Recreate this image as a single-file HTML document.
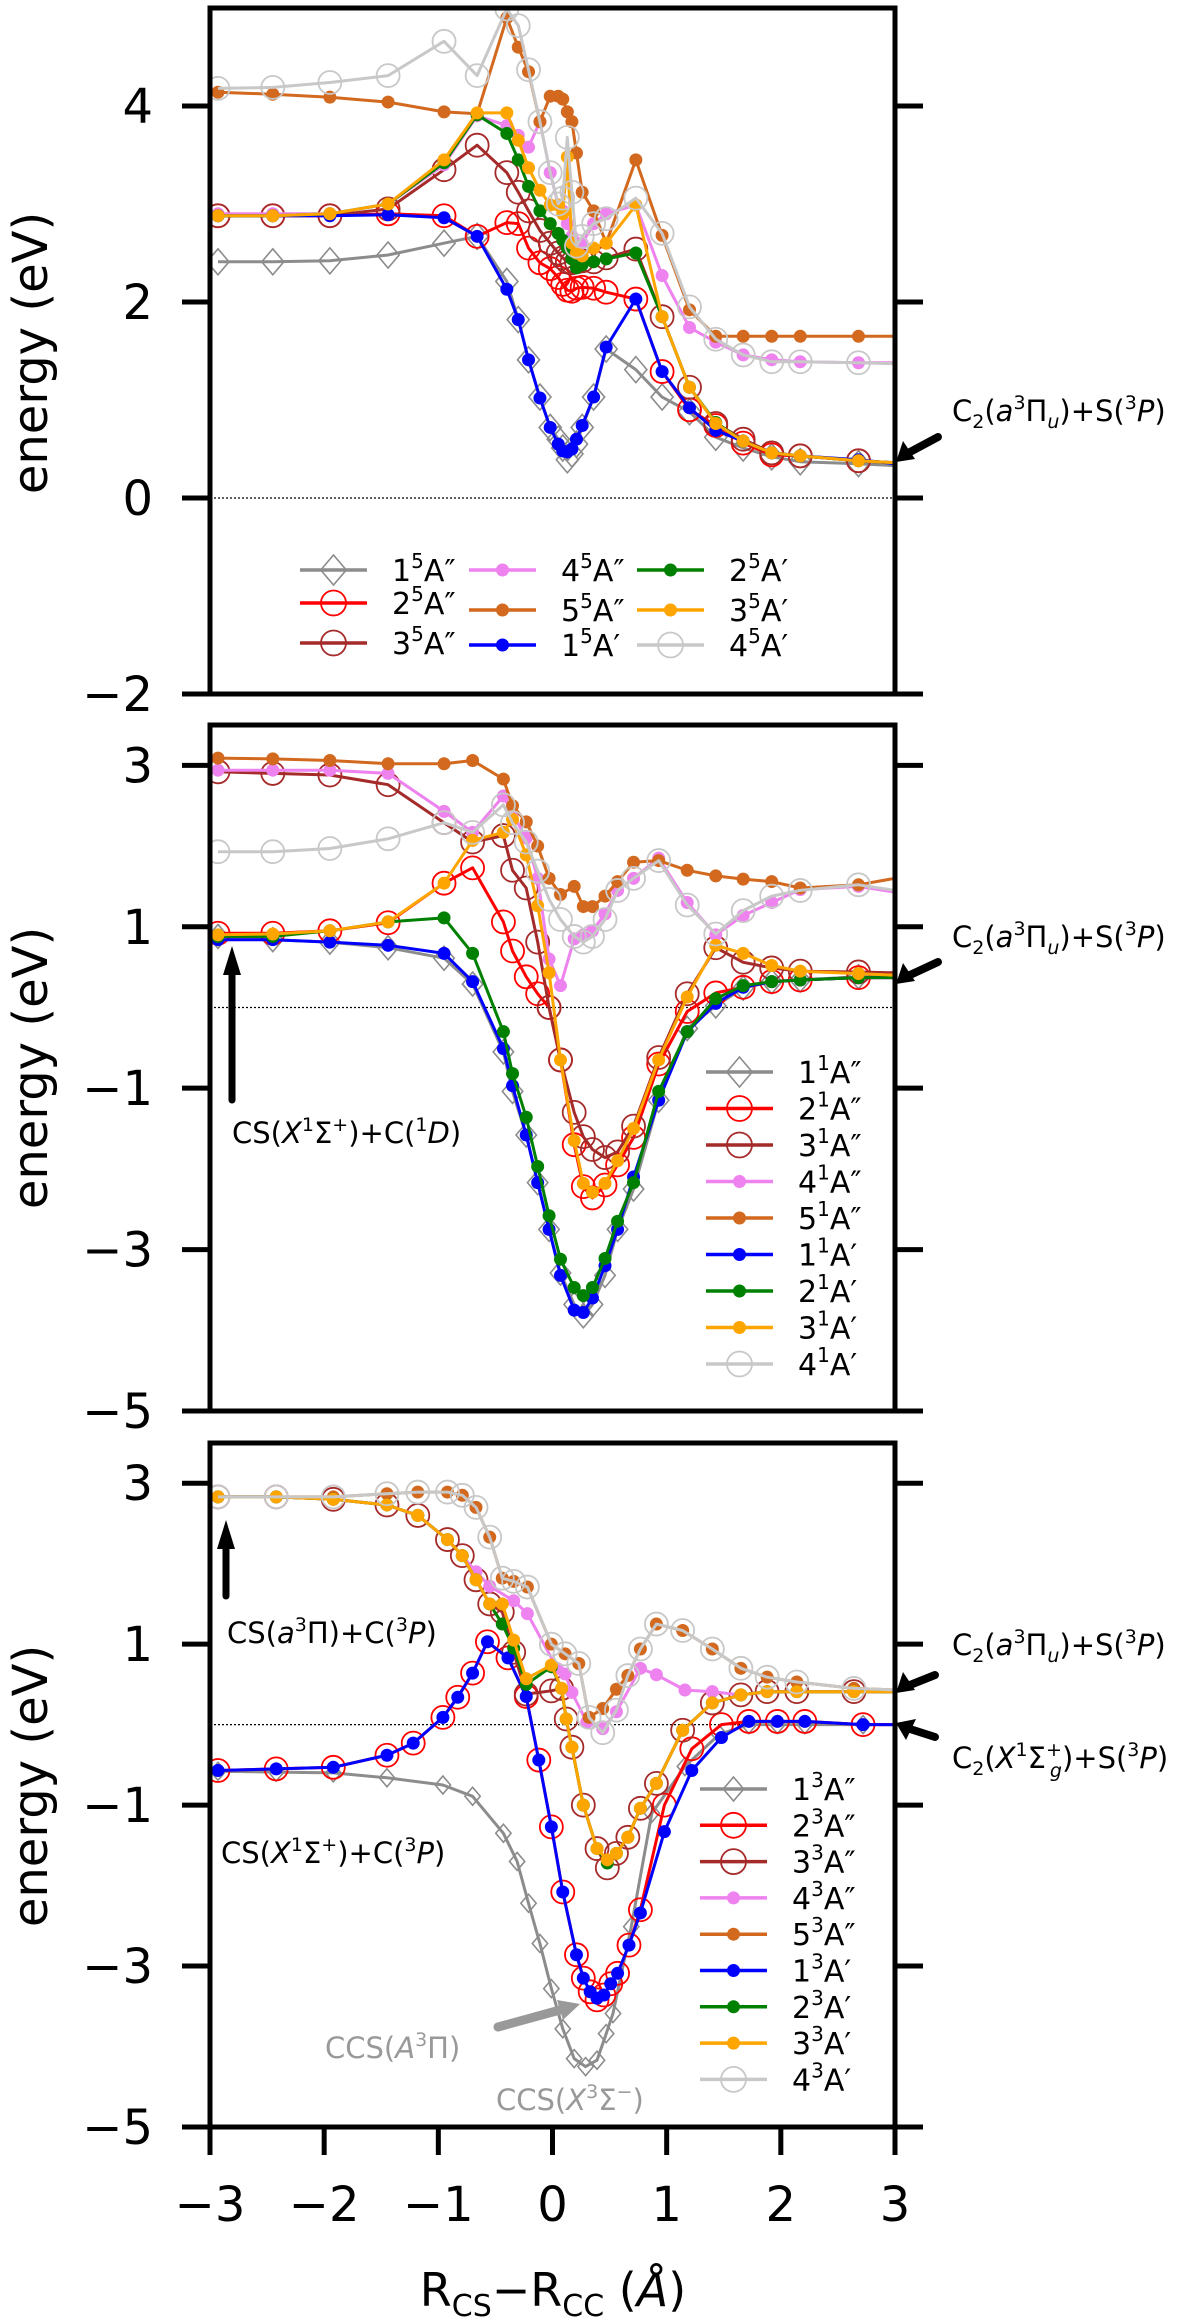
<!DOCTYPE html>
<html><head><meta charset="utf-8"><style>
html,body{margin:0;padding:0;background:#fff;}
svg{display:block;}
text{font-family:"DejaVu Sans","Liberation Sans",sans-serif;}
.ann{font-family:"DejaVu Sans","Liberation Sans",sans-serif;font-size:29px;}
</style></head><body>
<svg id="chart" width="1200" height="2318" viewBox="0 0 1200 2318" xmlns="http://www.w3.org/2000/svg">
<defs>
<clipPath id="c1"><rect x="210" y="8" width="685" height="686"/></clipPath>
<clipPath id="c2"><rect x="210" y="725" width="685" height="686"/></clipPath>
<clipPath id="c3"><rect x="210" y="1443" width="685" height="684"/></clipPath>
</defs>
<g id="layer"></g>
<!-- annotations -->
<g fill="#000">
<text class="ann" x="952" y="421">C<tspan font-size="19" dy="7">2</tspan><tspan dy="-7">(</tspan><tspan font-style="italic">a</tspan><tspan font-size="19" dy="-12">3</tspan><tspan dy="12">Π</tspan><tspan font-size="19" dy="7" font-style="italic">u</tspan><tspan dy="-7">)+S(</tspan><tspan font-size="19" dy="-12">3</tspan><tspan dy="12" font-style="italic">P</tspan>)</text>
<text class="ann" x="952" y="947">C<tspan font-size="19" dy="7">2</tspan><tspan dy="-7">(</tspan><tspan font-style="italic">a</tspan><tspan font-size="19" dy="-12">3</tspan><tspan dy="12">Π</tspan><tspan font-size="19" dy="7" font-style="italic">u</tspan><tspan dy="-7">)+S(</tspan><tspan font-size="19" dy="-12">3</tspan><tspan dy="12" font-style="italic">P</tspan>)</text>
<text class="ann" x="952" y="1655">C<tspan font-size="19" dy="7">2</tspan><tspan dy="-7">(</tspan><tspan font-style="italic">a</tspan><tspan font-size="19" dy="-12">3</tspan><tspan dy="12">Π</tspan><tspan font-size="19" dy="7" font-style="italic">u</tspan><tspan dy="-7">)+S(</tspan><tspan font-size="19" dy="-12">3</tspan><tspan dy="12" font-style="italic">P</tspan>)</text>
<text class="ann" x="952" y="1768">C<tspan font-size="19" dy="7">2</tspan><tspan dy="-7">(</tspan><tspan font-style="italic">X</tspan><tspan font-size="19" dy="-12">1</tspan><tspan dy="12">Σ</tspan><tspan font-size="19" dy="-12">+</tspan><tspan font-size="19" dx="-12" dy="21" font-style="italic">g</tspan><tspan dy="-9">)+S(</tspan><tspan font-size="19" dy="-12">3</tspan><tspan dy="12" font-style="italic">P</tspan>)</text>
<text class="ann" x="232" y="1143">CS(<tspan font-style="italic">X</tspan><tspan font-size="19" dy="-12">1</tspan><tspan dy="12">Σ</tspan><tspan font-size="19" dy="-12">+</tspan><tspan dy="12">)+C(</tspan><tspan font-size="19" dy="-12">1</tspan><tspan dy="12" font-style="italic">D</tspan>)</text>
<text class="ann" x="227" y="1643">CS(<tspan font-style="italic">a</tspan><tspan font-size="19" dy="-12">3</tspan><tspan dy="12">Π)+C(</tspan><tspan font-size="19" dy="-12">3</tspan><tspan dy="12" font-style="italic">P</tspan>)</text>
<text class="ann" x="221" y="1863">CS(<tspan font-style="italic">X</tspan><tspan font-size="19" dy="-12">1</tspan><tspan dy="12">Σ</tspan><tspan font-size="19" dy="-12">+</tspan><tspan dy="12">)+C(</tspan><tspan font-size="19" dy="-12">3</tspan><tspan dy="12" font-style="italic">P</tspan>)</text>
<text class="ann" x="325" y="2058" fill="#999">CCS(<tspan font-style="italic">A</tspan><tspan font-size="19" dy="-12">3</tspan><tspan dy="12">Π)</tspan></text>
<text class="ann" x="496" y="2110" fill="#999">CCS(<tspan font-style="italic">X</tspan><tspan font-size="19" dy="-12">3</tspan><tspan dy="12">Σ</tspan><tspan font-size="19" dy="-12">−</tspan><tspan dy="12">)</tspan></text>
</g>
<g stroke-linecap="round">
<g><line x1="938" y1="437" x2="910" y2="452" stroke="#000" stroke-width="8"/><polygon points="896,462 903,441 915,459" fill="#000"/></g>
<g><line x1="938" y1="962" x2="910" y2="975" stroke="#000" stroke-width="8"/><polygon points="896,984 903,963 915,981" fill="#000"/></g>
<g><line x1="935" y1="1675" x2="910" y2="1685" stroke="#000" stroke-width="8"/><polygon points="896,1693 903,1672 915,1690" fill="#000"/></g>
<g><line x1="935" y1="1737" x2="910" y2="1729" stroke="#000" stroke-width="8"/><polygon points="896,1723 916,1719 906,1740" fill="#000"/></g>
<g><line x1="232" y1="1100" x2="232" y2="970" stroke="#000" stroke-width="7"/><polygon points="232,946 223,975 241,975" fill="#000"/></g>
<g><line x1="226" y1="1596" x2="226" y2="1545" stroke="#000" stroke-width="7"/><polygon points="226,1520 217,1549 235,1549" fill="#000"/></g>
<g><line x1="498" y1="2027" x2="560" y2="2010" stroke="#999" stroke-width="9"/><polygon points="580,2004 557,2000 563,2020" fill="#999"/></g>
</g>
<text x="31" y="353" transform="rotate(-90 31 353)" text-anchor="middle" dominant-baseline="central" font-size="48">energy (eV)</text>
<text x="31" y="1068" transform="rotate(-90 31 1068)" text-anchor="middle" dominant-baseline="central" font-size="48">energy (eV)</text>
<text x="31" y="1786" transform="rotate(-90 31 1786)" text-anchor="middle" dominant-baseline="central" font-size="48">energy (eV)</text>
<text x="553" y="2306" text-anchor="middle" font-size="46">R<tspan font-size="30" dy="10">CS</tspan><tspan dy="-10">−R</tspan><tspan font-size="30" dy="10">CC</tspan><tspan dy="-10"> (</tspan><tspan font-style="italic">Å</tspan>)</text>
</svg>
<script>
// ---------- data ----------
const xRange = [-3, 3];
const p1Range = [-2, 5];
const p2Range = [-5, 3.5];
const p3Range = [-5, 3.5];
const p1Ticks = [4, 2, 0, -2];
const p2Ticks = [3, 1, -1, -3, -5];
const p3Ticks = [3, 1, -1, -3, -5];
const xTicks = [-3, -2, -1, 0, 1, 2, 3];

// panel 1 (quintets)
const p1x = [-2.93,-2.45,-1.95,-1.44,-0.95,-0.66,-0.40,-0.30,-0.21,-0.11,-0.02,0.05,0.09,0.13,0.17,0.21,0.26,0.36,0.47,0.73,0.96,1.2,1.43,1.67,1.92,2.17,2.68,3.0];
const p1_1App = [2.41,2.41,2.42,2.48,2.6,2.67,2.21,1.82,1.41,1.03,0.72,0.6,0.51,0.39,0.45,0.55,0.72,1.03,1.52,1.31,1.03,0.88,0.62,0.51,0.42,0.37,0.35,0.33];
const p1_2App = [2.88,2.88,2.88,2.9,2.88,2.67,2.81,2.8,2.55,2.4,2.34,2.25,2.18,2.12,2.11,2.14,2.15,2.14,2.1,2.03,1.29,0.9,0.74,0.56,0.44,0.43,0.38,0.36];
const p1_3App = [2.88,2.88,2.88,2.95,3.35,3.6,3.32,3.12,2.93,2.73,2.6,2.5,2.45,2.41,2.4,2.41,2.42,2.41,2.45,2.54,1.85,1.13,0.76,0.6,0.46,0.43,0.38,0.36];
const p1_4App = [2.9,2.9,2.9,3.0,3.4,3.9,3.8,3.7,3.58,3.84,3.32,2.99,2.93,2.8,2.67,2.6,2.6,2.8,2.9,2.99,2.27,1.74,1.59,1.46,1.41,1.39,1.38,1.38];
const p1_5App = [4.14,4.12,4.09,4.04,3.94,3.92,4.9,4.6,4.35,3.84,4.1,4.1,4.07,3.94,3.84,3.52,3.12,2.93,2.6,3.45,2.68,1.92,1.65,1.65,1.65,1.65,1.65,1.65];
const p1_1Ap = [2.88,2.88,2.88,2.89,2.86,2.67,2.13,1.82,1.41,1.02,0.72,0.55,0.48,0.47,0.5,0.6,0.74,1.03,1.54,2.03,1.29,0.92,0.69,0.58,0.46,0.43,0.39,0.35];
const p1_2Ap = [2.88,2.88,2.9,3.0,3.42,3.91,3.72,3.45,3.18,2.93,2.8,2.7,2.63,2.55,2.44,2.35,2.38,2.41,2.44,2.5,1.85,1.13,0.77,0.58,0.46,0.43,0.38,0.36];
const p1_3Ap = [2.88,2.88,2.9,3.0,3.45,3.93,3.93,3.65,3.37,3.14,2.99,2.99,2.9,3.48,2.6,2.5,2.47,2.55,2.6,2.99,1.85,1.13,0.76,0.58,0.46,0.43,0.38,0.36];
const p1_4Ap = [4.18,4.19,4.24,4.31,4.66,4.31,4.99,4.82,4.37,3.84,3.32,3.0,3.06,3.68,3.12,2.57,2.67,2.8,2.85,3.06,2.7,1.95,1.62,1.46,1.39,1.39,1.38,1.37];

// panel 2 (singlets)
const p2x = [-2.93,-2.45,-1.95,-1.44,-0.95,-0.70,-0.43,-0.35,-0.23,-0.13,-0.03,0.07,0.19,0.27,0.35,0.46,0.57,0.71,0.93,1.18,1.43,1.67,1.92,2.17,2.68,3.0];
const p2_1App = [0.88,0.84,0.81,0.74,0.61,0.29,-0.55,-1.04,-1.58,-2.17,-2.75,-3.29,-3.68,-3.82,-3.68,-3.32,-2.75,-2.25,-1.15,-0.26,0.02,0.24,0.32,0.34,0.38,0.38];
const p2_2App = [0.92,0.92,0.95,1.05,1.54,1.73,1.06,0.7,0.38,0.17,0.0,-0.65,-1.7,-2.22,-2.36,-2.2,-1.95,-1.61,-0.7,-0.05,0.18,0.25,0.32,0.34,0.37,0.37];
const p2_3App = [2.92,2.9,2.88,2.76,2.29,2.05,2.13,1.7,1.48,0.81,0.0,-0.65,-1.3,-1.6,-1.76,-1.86,-1.79,-1.47,-0.62,0.17,0.74,0.56,0.49,0.45,0.44,0.43];
const p2_4App = [2.94,2.94,2.94,2.9,2.43,2.17,2.62,2.4,2.1,1.6,0.6,0.27,0.85,0.9,0.95,1.16,1.45,1.6,1.85,1.3,0.9,1.14,1.3,1.46,1.5,1.43];
const p2_5App = [3.09,3.08,3.06,3.02,3.02,3.06,2.83,2.5,2.3,2.0,1.6,1.4,1.5,1.25,1.25,1.38,1.56,1.8,1.82,1.7,1.63,1.59,1.56,1.48,1.52,1.6];
const p2_1Ap = [0.84,0.84,0.81,0.77,0.67,0.32,-0.51,-0.97,-1.58,-2.17,-2.75,-3.32,-3.75,-3.78,-3.6,-3.2,-2.75,-2.1,-1.15,-0.3,0.05,0.25,0.32,0.34,0.37,0.37];
const p2_2Ap = [0.88,0.88,0.95,1.06,1.11,0.67,-0.3,-0.82,-1.36,-1.97,-2.58,-3.12,-3.47,-3.57,-3.47,-3.11,-2.65,-2.17,-1.04,-0.3,0.11,0.27,0.32,0.34,0.37,0.37];
const p2_3Ap = [0.9,0.91,0.95,1.06,1.54,2.07,2.17,2.33,1.89,1.26,0.43,-0.65,-1.65,-2.18,-2.29,-2.18,-1.9,-1.5,-0.65,0.13,0.77,0.67,0.52,0.45,0.42,0.4];
const p2_4Ap = [1.93,1.93,1.97,2.09,2.29,2.17,2.51,2.29,2.05,1.69,1.34,1.09,0.88,0.81,0.88,1.09,1.45,1.6,1.82,1.27,0.91,1.2,1.38,1.45,1.52,1.45];

// panel 3 (triplets)
const p3x_1App = [-2.93,-2.42,-1.92,-1.45,-0.96,-0.70,-0.43,-0.31,-0.21,-0.11,-0.01,0.09,0.19,0.29,0.39,0.47,0.53,0.69,0.87,1.16,1.46,1.72,1.97,2.21,2.72,3.0];
const p3_1App = [-0.58,-0.59,-0.6,-0.66,-0.75,-0.89,-1.35,-1.70,-2.22,-2.72,-3.28,-3.78,-4.15,-4.25,-4.17,-3.84,-3.59,-2.51,-1.1,-0.52,-0.12,0.0,0.0,0.0,0.0,0.0];
const p3x_low = [-2.93,-2.42,-1.92,-1.45,-1.22,-0.96,-0.83,-0.70,-0.57,-0.39,-0.23,-0.12,-0.01,0.09,0.21,0.27,0.33,0.39,0.45,0.51,0.57,0.67,0.77,0.98,1.22,1.48,1.72,1.97,2.21,2.72,3.0];
const p3_1Ap = [-0.57,-0.55,-0.53,-0.38,-0.23,0.09,0.34,0.64,1.03,0.83,0.35,-0.44,-1.27,-2.08,-2.86,-3.15,-3.32,-3.40,-3.36,-3.22,-3.09,-2.74,-2.34,-1.33,-0.57,-0.16,0.04,0.04,0.04,0.0,0.0];
const p3_2App = [-0.57,-0.55,-0.53,-0.38,-0.23,0.09,0.34,0.64,1.03,0.83,0.35,-0.44,-1.27,-2.08,-2.86,-3.15,-3.32,-3.42,-3.36,-3.22,-3.09,-2.74,-2.3,-1.0,-0.3,0.0,0.04,0.04,0.04,0.0,0.0];
const p3x_mid = [-2.93,-2.42,-1.92,-1.45,-1.18,-0.92,-0.79,-0.67,-0.55,-0.44,-0.34,-0.23,-0.01,0.08,0.12,0.17,0.27,0.39,0.48,0.56,0.66,0.77,0.91,1.14,1.40,1.65,1.88,2.14,2.64,3.0];
const p3_3App = [2.83,2.83,2.8,2.73,2.6,2.3,2.1,1.8,1.5,1.4,0.9,0.38,0.42,0.45,0.07,-0.28,-1.0,-1.54,-1.78,-1.6,-1.4,-1.04,-0.73,-0.07,0.27,0.37,0.41,0.41,0.41,0.41];
const p3_2Ap = [2.83,2.83,2.8,2.73,2.6,2.3,2.1,1.8,1.5,1.25,0.95,0.5,0.72,0.45,0.07,-0.28,-1.0,-1.54,-1.72,-1.6,-1.4,-1.04,-0.73,-0.07,0.27,0.37,0.41,0.41,0.41,0.41];
const p3_3Ap = [2.83,2.83,2.8,2.73,2.6,2.3,2.1,1.8,1.5,1.5,1.05,0.57,0.74,0.45,0.07,-0.28,-1.0,-1.54,-1.68,-1.6,-1.4,-1.04,-0.73,-0.07,0.27,0.37,0.41,0.41,0.41,0.41];
const p3x_4App = [-2.93,-2.42,-1.92,-1.45,-1.18,-0.92,-0.79,-0.67,-0.55,-0.34,-0.22,0.04,0.11,0.17,0.30,0.44,0.56,0.77,0.91,1.16,1.40,1.65,1.88,2.14,2.64,3.0];
const p3_4App = [2.83,2.83,2.8,2.73,2.6,2.3,2.1,1.9,1.72,1.54,1.38,0.7,0.63,0.40,0.03,-0.05,0.16,0.70,0.62,0.43,0.41,0.37,0.41,0.41,0.41,0.41];
const p3x_top = [-2.93,-2.42,-1.92,-1.45,-1.18,-0.92,-0.79,-0.67,-0.55,-0.44,-0.34,-0.22,-0.01,0.11,0.23,0.32,0.44,0.56,0.66,0.77,0.91,1.14,1.40,1.65,1.88,2.14,2.64,3.0];
const p3_5App = [2.83,2.83,2.83,2.87,2.89,2.89,2.85,2.7,2.33,1.82,1.78,1.71,1.0,0.88,0.76,0.09,0.2,0.44,0.61,0.94,1.25,1.17,0.94,0.7,0.59,0.53,0.45,0.43];
const p3_4Ap = [2.83,2.83,2.83,2.87,2.89,2.89,2.85,2.7,2.33,1.82,1.78,1.71,1.0,0.88,0.76,0.09,-0.1,0.18,0.61,0.94,1.25,1.17,0.94,0.7,0.59,0.53,0.45,0.43];

// ---------- geometry ----------
const NS = "http://www.w3.org/2000/svg";
const X0 = 210, X1 = 895;
function sx(v){ return X0 + (v - xRange[0]) / (xRange[1] - xRange[0]) * (X1 - X0); }
function makeY(range, top, bottom){ return v => bottom - (v - range[0]) / (range[1] - range[0]) * (bottom - top); }
const panels = [
  {id:1, top:8, bottom:694, range:p1Range, ticks:p1Ticks, clip:"c1"},
  {id:2, top:725, bottom:1411, range:p2Range, ticks:p2Ticks, clip:"c2"},
  {id:3, top:1443, bottom:2127, range:p3Range, ticks:p3Ticks, clip:"c3"}
];
panels.forEach(p => p.sy = makeY(p.range, p.top, p.bottom));
const layer = document.getElementById("layer");
function el(tag, attrs, parent){ const e = document.createElementNS(NS, tag); for (const k in attrs) e.setAttribute(k, attrs[k]); (parent||layer).appendChild(e); return e; }

const styles = {
  d1: {color:"#8c8c8c", m:"diamond"},
  d2: {color:"#ff0000", m:"circle"},
  d3: {color:"#a52a2a", m:"circle"},
  d4: {color:"#ee82ee", m:"dot"},
  d5: {color:"#d2691e", m:"dot"},
  p1: {color:"#0000ff", m:"dot"},
  p2: {color:"#008000", m:"dot"},
  p3: {color:"#ffa500", m:"dot"},
  p4: {color:"#c8c8c8", m:"circle"}
};
function marker(g, type, color, cx, cy, ds){
  let m;
  if (type === "circle") m = el("circle", {cx:cx, cy:cy, r:11.5, fill:"none", stroke:color, "stroke-width":1.8}, g);
  else if (type === "dot") m = el("circle", {cx:cx, cy:cy, r:6.5, fill:color}, g);
  else m = el("polygon", {points:`${cx},${cy-ds} ${cx+ds*0.85},${cy} ${cx},${cy+ds} ${cx-ds*0.85},${cy}`, fill:"none", stroke:color, "stroke-width":1.6}, g);
  return m;
}
function series(p, name, key, xs, ys, ds){
  const st = styles[key];
  const g = el("g", {"clip-path":`url(#${p.clip})`});
  
  
  const pts = xs.map((x,i) => `${sx(x).toFixed(1)},${p.sy(ys[i]).toFixed(1)}`).join(" ");
  const line = el("polyline", {points:pts, fill:"none", stroke:st.color, "stroke-width":3, "stroke-linejoin":"round"}, g);
  
  
  xs.forEach((x,i) => {
    if (x > 2.95) return;
    const m = marker(g, st.m, st.color, sx(x), p.sy(ys[i]), ds);
    
    
  });
}
const P1 = panels[0], P2 = panels[1], P3 = panels[2];
// zero lines
panels.forEach(p => {
  const z = el("line", {x1:X0, x2:X1, y1:p.sy(0), y2:p.sy(0), stroke:"#000", "stroke-width":1.3, "stroke-dasharray":"2,2"});
  
  
});
// panel 1
series(P1, "series-1-5App", "d1", p1x, p1_1App, 13);
series(P1, "series-2-5App", "d2", p1x, p1_2App);
series(P1, "series-3-5App", "d3", p1x, p1_3App);
series(P1, "series-4-5App", "d4", p1x, p1_4App);
series(P1, "series-5-5App", "d5", p1x, p1_5App);
series(P1, "series-1-5Ap", "p1", p1x, p1_1Ap);
series(P1, "series-2-5Ap", "p2", p1x, p1_2Ap);
series(P1, "series-3-5Ap", "p3", p1x, p1_3Ap);
series(P1, "series-4-5Ap", "p4", p1x, p1_4Ap);
// panel 2
series(P2, "series-1-1App", "d1", p2x, p2_1App, 12);
series(P2, "series-2-1App", "d2", p2x, p2_2App);
series(P2, "series-3-1App", "d3", p2x, p2_3App);
series(P2, "series-4-1App", "d4", p2x, p2_4App);
series(P2, "series-5-1App", "d5", p2x, p2_5App);
series(P2, "series-1-1Ap", "p1", p2x, p2_1Ap);
series(P2, "series-2-1Ap", "p2", p2x, p2_2Ap);
series(P2, "series-3-1Ap", "p3", p2x, p2_3Ap);
series(P2, "series-4-1Ap", "p4", p2x, p2_4Ap);
// panel 3
series(P3, "series-1-3App", "d1", p3x_1App, p3_1App, 9);
series(P3, "series-2-3App", "d2", p3x_low, p3_2App);
series(P3, "series-3-3App", "d3", p3x_mid, p3_3App);
series(P3, "series-4-3App", "d4", p3x_4App, p3_4App);
series(P3, "series-5-3App", "d5", p3x_top, p3_5App);
series(P3, "series-1-3Ap", "p1", p3x_low, p3_1Ap);
series(P3, "series-2-3Ap", "p2", p3x_mid, p3_2Ap);
series(P3, "series-3-3Ap", "p3", p3x_mid, p3_3Ap);
series(P3, "series-4-3Ap", "p4", p3x_top, p3_4Ap);

// frames, ticks
panels.forEach(p => {
  const f = el("rect", {x:X0, y:p.top, width:X1-X0, height:p.bottom-p.top, fill:"none", stroke:"#000", "stroke-width":5});
  
  
  p.ticks.forEach(t => {
    const y = p.sy(t);
    const a = el("line", {x1:X0-28, x2:X0, y1:y, y2:y, stroke:"#000", "stroke-width":5});
    
    
    const b = el("line", {x1:X1, x2:X1+28, y1:y, y2:y, stroke:"#000", "stroke-width":5});
    
    
    const tx = el("text", {x:153, y:y+17, "text-anchor":"end", "font-size":48});
    tx.textContent = t < 0 ? "−" + Math.abs(t) : String(t);
    
    
  });
});
xTicks.forEach(t => {
  const x = sx(t);
  const l = el("line", {x1:x, x2:x, y1:P3.bottom, y2:P3.bottom+28, stroke:"#000", "stroke-width":5});
  
  
  const tx = el("text", {x:x, y:2221, "text-anchor":"middle", "font-size":48});
  tx.textContent = t < 0 ? "−" + Math.abs(t) : String(t);
  
  
});

// legends
function legendEntry(key, lx, ly, num, mult, prime, ds){
  const st = styles[key];
  const g = el("g", {});
  
  
  el("line", {x1:lx, x2:lx+67, y1:ly, y2:ly, stroke:st.color, "stroke-width":3.5}, g);
  const m = marker(g, st.m, st.color, lx+33.5, ly, ds || 15);
  if (st.m === "circle") m.setAttribute("r", 12.5);
  const t = el("text", {x:lx+92, y:ly+11, "font-size":30}, g);
  t.innerHTML = `${num}<tspan font-size="20" dy="-13">${mult}</tspan><tspan dy="13">A${prime}</tspan>`;
}
const legKeys = ["d1","d2","d3","d4","d5","p1","p2","p3","p4"];
const legNums = ["1","2","3","4","5","1","2","3","4"];
const legPrimes = ["″","″","″","″","″","′","′","′","′"];
const p1LegendCols = [300, 469, 637];
const p1LegendRows = [[570,603,643],[570,610,645],[570,610,645]];
legKeys.forEach((k,i) => {
  const c = Math.floor(i/3), r = i%3;
  legendEntry(k, p1LegendCols[c], p1LegendRows[c][r], legNums[i], "5", legPrimes[i], 15);
});
legKeys.forEach((k,i) => legendEntry(k, 706, 1072 + i*36.5, legNums[i], "1", legPrimes[i], 15));
legKeys.forEach((k,i) => legendEntry(k, 700, 1789 + i*36.3, legNums[i], "3", legPrimes[i], 12));
</script>
</body></html>
